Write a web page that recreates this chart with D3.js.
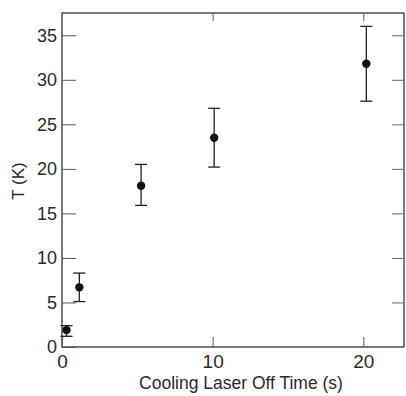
<!DOCTYPE html>
<html>
<head>
<meta charset="utf-8">
<script src="https://d3js.org/d3.v7.min.js"></script>
<style>
  html, body { margin: 0; padding: 0; background: #fff; }
  svg text { font-family: "Liberation Sans", Arial, sans-serif; fill: #2a2a2a; }
</style>
</head>
<body>
<div id="chart"></div>
<script>
// data
const offTimes = [0.3, 1.15, 5.25, 10.1, 20.2];
const temps    = [1.9, 6.7, 18.1, 23.5, 31.8];
const tempLow  = [1.2, 5.1, 15.9, 20.2, 27.6];
const tempHigh = [2.4, 8.3, 20.5, 26.8, 36.0];
const yTicks = [0, 5, 10, 15, 20, 25, 30, 35];
const xTicks = [0, 10, 20];

const width = 406, height = 396;
const margin = { top: 13, right: 2, bottom: 49, left: 62 };

const svg = d3.select("#chart")
    .append("svg")
    .attr("width", width)
    .attr("height", height);

const x = d3.scaleLinear()
    .domain([0, 22.7])
    .range([margin.left, width - margin.right]);
const y = d3.scaleLinear()
    .domain([0, 37.5])
    .range([height - margin.bottom, margin.top]);

const ink = "#222";

// frame
svg.append("rect")
    .attr("x", x(0))
    .attr("y", y(37.5))
    .attr("width", x(22.7) - x(0))
    .attr("height", y(0) - y(37.5))
    .attr("fill", "none")
    .attr("stroke", ink)
    .attr("stroke-width", 1.2);

// left axis, ticks pointing in
const yAxis = svg.append("g")
    .attr("transform", `translate(${x(0)},0)`)
    .call(d3.axisLeft(y).tickValues(yTicks).tickSize(-14).tickPadding(5));
yAxis.select(".domain").remove();
yAxis.selectAll("line").attr("stroke", "#555");
yAxis.selectAll("text").style("font-size", "18px").attr("fill", "#2a2a2a");

// right axis, no labels
const yAxisR = svg.append("g")
    .attr("transform", `translate(${x(22.7)},0)`)
    .call(d3.axisRight(y).tickValues(yTicks.filter(d => d > 0)).tickSize(-12).tickFormat(""));
yAxisR.select(".domain").remove();
yAxisR.selectAll("line").attr("stroke", "#666");

// bottom axis
const xAxis = svg.append("g")
    .attr("transform", `translate(0,${y(0)})`)
    .call(d3.axisBottom(x).tickValues(xTicks).tickSize(-10).tickPadding(8));
xAxis.select(".domain").remove();
xAxis.selectAll("line").attr("stroke", "#555");
xAxis.selectAll("text").style("font-size", "19px").attr("fill", "#2a2a2a");

// top axis, no labels
const xAxisT = svg.append("g")
    .attr("transform", `translate(0,${y(37.5)})`)
    .call(d3.axisTop(x).tickValues(xTicks.filter(d => d > 0)).tickSize(-8).tickFormat(""));
xAxisT.select(".domain").remove();
xAxisT.selectAll("line").attr("stroke", "#555");

// axis titles
svg.append("text")
    .attr("x", 241)
    .attr("y", 389)
    .attr("text-anchor", "middle")
    .style("font-size", "17.5px")
    .text("Cooling Laser Off Time (s)");

svg.append("text")
    .attr("transform", "translate(24,181) rotate(-90)")
    .attr("text-anchor", "middle")
    .style("font-size", "17px")
    .text("T (K)");

// error bars
const pts = offTimes.map((t, i) => ({ t, v: temps[i], lo: tempLow[i], hi: tempHigh[i] }));
const cap = 6;
const bars = svg.append("g").attr("stroke", ink).attr("stroke-width", 1.3);
bars.selectAll(".stem")
    .data(pts).enter().append("line")
    .attr("x1", d => x(d.t)).attr("x2", d => x(d.t))
    .attr("y1", d => y(d.lo)).attr("y2", d => y(d.hi));
bars.selectAll(".capHi")
    .data(pts).enter().append("line")
    .attr("x1", d => x(d.t) - cap).attr("x2", d => x(d.t) + cap)
    .attr("y1", d => y(d.hi)).attr("y2", d => y(d.hi));
bars.selectAll(".capLo")
    .data(pts).enter().append("line")
    .attr("x1", d => x(d.t) - cap).attr("x2", d => x(d.t) + cap)
    .attr("y1", d => y(d.lo)).attr("y2", d => y(d.lo));

// points
svg.append("g")
    .selectAll("circle")
    .data(pts)
    .enter()
    .append("circle")
    .attr("cx", d => x(d.t))
    .attr("cy", d => y(d.v))
    .attr("r", 4.2)
    .attr("fill", "#111");
</script>
</body>
</html>
